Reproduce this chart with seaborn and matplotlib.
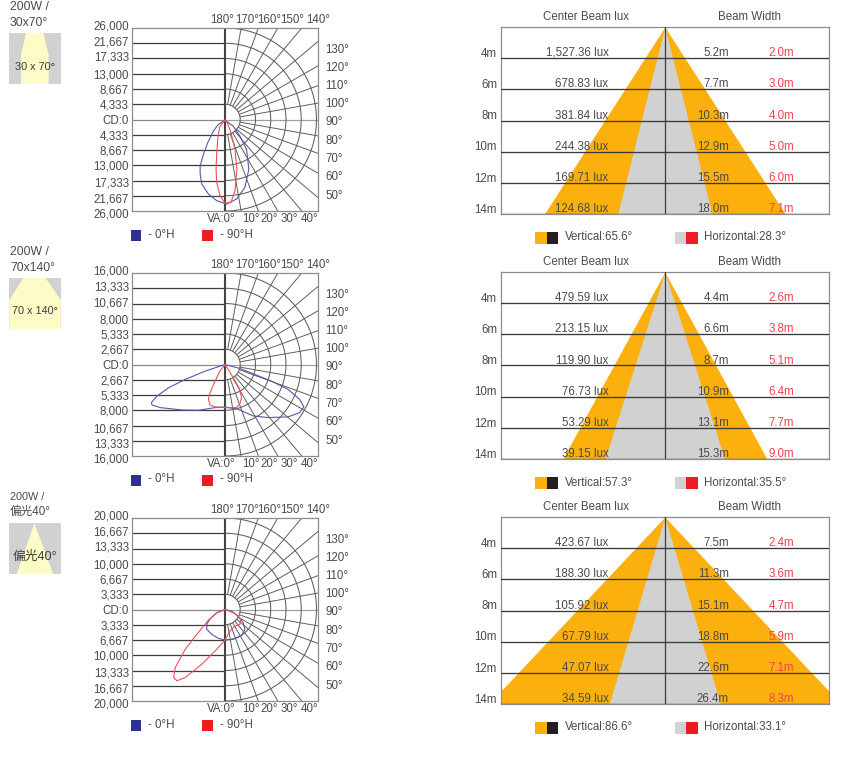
import numpy as np
import matplotlib
matplotlib.use("Agg")
import matplotlib.pyplot as plt
from matplotlib.patches import Rectangle, Polygon
from matplotlib.transforms import ScaledTranslation
import seaborn as sns

W, H = 847, 763
OFFSET = 245

sns.set_theme(style="white")
FONT = ['Liberation Sans', 'Noto Sans CJK SC', 'DejaVu Sans']
plt.rcParams['font.family'] = FONT

# ---------- data ----------
titles = [("200W /", "30x70°"), ("200W /", "70x140°"), ("200W /", "偏光40°")]
thumb_labels = ["30 x 70°", "70 x 140°", "偏光40°"]
cd_labels_1 = ["26,000", "21,667", "17,333", "13,000", "8,667", "4,333", "CD:0",
               "4,333", "8,667", "13,000", "17,333", "21,667", "26,000"]
cd_labels_2 = ["16,000", "13,333", "10,667", "8,000", "5,333", "2,667", "CD:0",
               "2,667", "5,333", "8,000", "10,667", "13,333", "16,000"]
cd_labels_3 = ["20,000", "16,667", "13,333", "10,000", "6,667", "3,333", "CD:0",
               "3,333", "6,667", "10,000", "13,333", "16,667", "20,000"]
cd_max = [26000, 16000, 20000]

# candela curves: lateral and axial components, in candela
p1_blue_x = [0, -1880, -3300, -4900, -6120, -7060, -7060, -6590, -4710, -2350, 470, 3300, 5650, 6780, 6120, 4240, 2350, 0]
p1_blue_y = [190, 1410, 3300, 6590, 9890, 13190, 15540, 18370, 21190, 23080, 24020, 22600, 19310, 14130, 8480, 4710, 1880, 190]
p1_red_x = [0, -1410, -1980, -2350, -2540, -2350, -1410, 0, 1700, 2830, 3390, 2830, 1700, 750, 0]
p1_red_y = [190, 1880, 4710, 9420, 14130, 17900, 21660, 23740, 23550, 20250, 14130, 8480, 3770, 1130, 190]

p2_blue_x = [0, -3480, -6960, -9860, -11890, -12880, -12760, -11310, -7540, -4640, -1740, 0, 2320, 4930, 7540, 11020, 13050, 13800, 13050, 11020, 8120, 5220, 2610, 0]
p2_blue_y = [0, 1160, 2610, 4060, 5510, 6670, 7080, 7540, 7950, 8000, 7540, 7420, 7830, 8990, 9280, 9160, 8410, 7420, 6090, 4350, 2900, 1740, 700, 0]
p2_red_x = [0, -870, -1740, -2610, -2900, -2610, -1740, 0, 2030, 2610, 2900, 2440, 1450, 580, 0]
p2_red_y = [0, 1160, 2900, 4930, 6090, 7080, 7420, 7540, 7540, 6840, 5800, 4060, 2320, 870, 0]

p3_blue_x = [0, -1810, -3260, -3990, -3990, -2900, -1450, 0, 1810, 3620, 4350, 3990, 2900, 1450, 0]
p3_blue_y = [0, 720, 2030, 3260, 4350, 5430, 6300, 6670, 6520, 5650, 4350, 2900, 1450, 360, 0]
p3_red_x = [0, -1810, -3620, -6160, -8700, -10870, -11230, -10510, -8700, -5070, -1810, 0, 1090, 2170, 3260, 3410, 2170, 0]
p3_red_y = [0, 720, 2320, 5430, 8700, 12680, 14860, 15580, 14860, 11960, 8700, 6670, 4710, 3620, 3260, 2170, 870, 0]

curves = [((p1_blue_x, p1_blue_y), (p1_red_x, p1_red_y)),
          ((p2_blue_x, p2_blue_y), (p2_red_x, p2_red_y)),
          ((p3_blue_x, p3_blue_y), (p3_red_x, p3_red_y))]
cd_labels = [cd_labels_1, cd_labels_2, cd_labels_3]

heights = ["4m", "6m", "8m", "10m", "12m", "14m"]
lux_1 = ["1,527.36 lux", "678.83 lux", "381.84 lux", "244.38 lux", "169.71 lux", "124.68 lux"]
lux_2 = ["479.59 lux", "213.15 lux", "119.90 lux", "76.73 lux", "53.29 lux", "39.15 lux"]
lux_3 = ["423.67 lux", "188.30 lux", "105.92 lux", "67.79 lux", "47.07 lux", "34.59 lux"]
width_v_1 = ["5.2m", "7.7m", "10.3m", "12.9m", "15.5m", "18.0m"]
width_v_2 = ["4.4m", "6.6m", "8.7m", "10.9m", "13.1m", "15.3m"]
width_v_3 = ["7.5m", "11.3m", "15.1m", "18.8m", "22.6m", "26.4m"]
width_h_1 = ["2.0m", "3.0m", "4.0m", "5.0m", "6.0m", "7.1m"]
width_h_2 = ["2.6m", "3.8m", "5.1m", "6.4m", "7.7m", "9.0m"]
width_h_3 = ["2.4m", "3.6m", "4.7m", "5.9m", "7.1m", "8.3m"]
vertical_deg = [65.6, 57.3, 86.6]
horizontal_deg = [28.3, 35.5, 33.1]
lux = [lux_1, lux_2, lux_3]
width_v = [width_v_1, width_v_2, width_v_3]
width_h = [width_h_1, width_h_2, width_h_3]

# ---------- style ----------
TXT = "#4a4a4a"
DARK = "#3c3c3c"
GRID = "#5e5e5e"
EDGE = "#8c8c8c"
BLUE = "#2e3192"
RED = "#ed1c24"
ORANGE = "#fbb00e"
GREY = "#d1d1d1"
CREAM = "#fdfbc6"
BASE = 8.3

fig = plt.figure(figsize=(W / 100, H / 100), dpi=100, facecolor="white")


def fx(x):
    return x / W


def fy(y):
    return 1 - y / H


def T(x, y, s, size=BASE, color=TXT, ha="left", **kw):
    fig.text(fx(x), fy(y), s, fontsize=size, color=color, ha=ha, va="center", **kw)


def R(x0, y0, x1, y1, color, **kw):
    fig.patches.append(Rectangle((fx(x0), fy(y1)), (x1 - x0) / W, (y1 - y0) / H,
                                 transform=fig.transFigure, facecolor=color, edgecolor="none", **kw))


def px_axes(l, t, r, b):
    return fig.add_axes([fx(l), fy(b), (r - l) / W, (b - t) / H])


def shift(lbl, dx_px, dy_px):
    lbl.set_transform(lbl.get_transform() + ScaledTranslation(dx_px / 100, -dy_px / 100, fig.dpi_scale_trans))


label_shift = [2, 2, 2, 0, 0, 0, 0, 0, 0, 0, -2, -2, -3]
top_angles = [("180°", 222), ("170°", 247), ("160°", 269.5), ("150°", 292), ("140°", 318)]
right_angles = [("130°", 50), ("120°", 68), ("110°", 86), ("100°", 104), ("90°", 122),
                ("80°", 141), ("70°", 159), ("60°", 177), ("50°", 196)]
bottom_angles = [("VA:0°", 235.5), ("10°", 260), ("20°", 278), ("30°", 298), ("40°", 318.5)]

thumbs = [
    [(78, 100), (130, 100), (146, 165), (146, 252), (63, 252), (63, 165)],
    [(70, 100), (137, 100), (182, 165), (182, 252), (28, 252), (28, 165)],
    [(103, 100), (160, 252), (50, 252)],
]

for i in range(3):
    o = i * OFFSET
    # title block
    if i < 2:
        T(10, 7 + o, titles[i][0], size=8.8)
        T(10, 23 + o, titles[i][1], size=8.8)
    else:
        T(10, 7 + o + 0.3, titles[i][0], size=7.8)
        T(10, 22 + o, titles[i][1], size=8.4)
    # thumbnail
    th = px_axes(9.3, 33 + o, 60.7, 84.3 + o)
    th.set_xlim(28, 182); th.set_ylim(252, 100); th.axis("off")
    th.add_patch(Rectangle((28, 100), 154, 152, facecolor=GREY, edgecolor="none"))
    th.add_patch(Polygon(thumbs[i], closed=True, facecolor=CREAM, edgecolor="none"))
    T(35, 66.5 + o, thumb_labels[i], size=9.2 if i == 2 else 7.8, ha="center", color="#3c3c3c")

    # polar panel
    ax = px_axes(132, 28 + o, 318, 211 + o)
    ax.set_xlim(-6.1, 6.1); ax.set_ylim(-6, 6)
    ax.set_facecolor("white")
    for s in ax.spines.values():
        s.set_color(EDGE); s.set_linewidth(0.9)
    levels = np.arange(-6, 7)
    for lv in levels[1:-1]:
        ax.hlines(lv, -6.1, 0, color="#888888" if lv == 0 else DARK, lw=0.9, zorder=1)
    ax.hlines(0, 0, 6.1, color="#a0a0a0", lw=0.9, zorder=1)
    phi = np.radians(np.linspace(-90, 90, 181))
    for r in range(1, 7):
        ax.plot(r * np.cos(phi), r * np.sin(phi), color=GRID, lw=0.75, zorder=1)
    for a in range(10, 180, 10):
        if a == 90:
            continue
        t = np.radians(a)
        ax.plot([np.sin(t), 9 * np.sin(t)], [-np.cos(t), -9 * np.cos(t)], color=GRID, lw=0.7, zorder=1)
    ax.axvline(0, color="#444444", lw=1.5, zorder=2)
    ax.set_yticks(levels)
    ax.set_yticklabels(cd_labels[i], fontsize=BASE, color=TXT)
    ax.tick_params(axis="y", length=0, pad=2.2)
    ax.set_xticks([])
    for lbl, d in zip(ax.get_yticklabels(), label_shift):
        shift(lbl, 0, d)
    unit = cd_max[i] / 6
    for (cx, cy), col in zip(curves[i], ["#5558ab", "#f0505a"]):
        sns.lineplot(x=np.array(cx) / unit, y=-np.array(cy) / unit, sort=False, estimator=None,
                     color=col, lw=0.8, ax=ax, zorder=3)
    ax.set_xlabel(""); ax.set_ylabel("")
    ax.set_xlim(-6.1, 6.1); ax.set_ylim(-6, 6)

    for s, x in top_angles:
        T(x, 20 + o, s, ha="center")
    for s, y in right_angles:
        T(325, y + o, s)
    for s, x in bottom_angles:
        T(x, 219 + o, s, ha="right")
    R(130.5, 230 + o, 141, 240.5 + o, BLUE)
    T(148, 234.5 + o, "- 0°H")
    R(202, 230 + o, 212.5, 240.5 + o, RED)
    T(220, 234.5 + o, "- 90°H")

    # beam panel
    bx = px_axes(500.5, 27 + o, 829, 214 + o)
    half = (829 - 500.5) / (187 / 6) / 2
    centre = (664.8 - 500.5) / (187 / 6) - half
    bx.set_xlim(-half - centre, half - centre); bx.set_ylim(6, 0)
    bx.set_facecolor("white")
    rows = np.arange(0, 7)
    va, ha_ = np.tan(np.radians(vertical_deg[i] / 2)), np.tan(np.radians(horizontal_deg[i] / 2))
    bx.fill_betweenx(rows, -va * rows, va * rows, color=ORANGE, lw=0, zorder=1)
    bx.fill_betweenx(rows, -ha_ * rows, ha_ * rows, color=GREY, lw=0, zorder=2)
    bx.axvline(0, color="#3a3a3a", lw=0.9, zorder=3)
    bx.set_yticks(rows[1:])
    bx.set_yticklabels(heights, fontsize=BASE, color=TXT)
    bx.set_xticks([])
    bx.tick_params(axis="y", length=0, pad=2.5)
    bx.yaxis.grid(True, color="#3a3a3a", lw=0.95, zorder=3)
    bx.xaxis.grid(False)
    bx.set_axisbelow(False)
    for lbl in bx.get_yticklabels():
        shift(lbl, 0, -5.7)
    for s in bx.spines.values():
        s.set_color(EDGE); s.set_linewidth(0.9)
    T(586, 17 + o, "Center Beam lux", ha="center")
    T(749, 17 + o, "Beam Width", ha="center")
    row_y = [52.7, 84, 115.7, 146.7, 178, 209]
    for j, y in enumerate(row_y):
        T(608.5, y + o, lux[i][j], ha="right")
        T(729, y + o, width_v[i][j], ha="right")
        T(794, y + o, width_h[i][j], ha="right", color="#f0404e")
    R(535, 231.5 + o, 546.5, 243.5 + o, ORANGE)
    R(546.5, 231.5 + o, 558, 243.5 + o, "#231f20")
    T(565, 237.5 + o, f"Vertical:{vertical_deg[i]}°")
    R(674.5, 231.5 + o, 686, 243.5 + o, GREY)
    R(686, 231.5 + o, 697.5, 243.5 + o, RED)
    T(704, 237.5 + o, f"Horizontal:{horizontal_deg[i]}°")

fig.savefig("out.png", dpi=100)
